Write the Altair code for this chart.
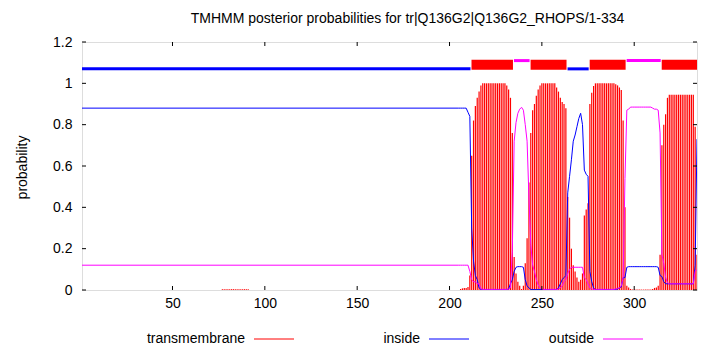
import altair as alt
import pandas as pd

# ---------------- data ----------------
SEQ_FIRST = 1
SEQ_LAST = 334

# flat part of the profile (residue 1 .. 204)
HEAD_RES = [1]
HEAD_INSIDE = [0.88]
HEAD_OUTSIDE = [0.12]

# tiny transmembrane values around residues 77-91
LOW_TM_RES = [77, 78, 79, 80, 81, 82, 83, 84, 85, 86, 87, 88, 89, 90, 91]
LOW_TM_VAL = [0.004, 0.004, 0.004, 0.004, 0.004, 0.004, 0.004, 0.004,
              0.004, 0.004, 0.004, 0.004, 0.004, 0.004, 0.004]

# residues 205 .. 334
VAR_START = 205
INSIDE = [
    0.88, 0.88, 0.88, 0.88, 0.88, 0.86, 0.84, 0.30, 0.14, 0.07, 0.05, 0.01, 0.003,
    0.002, 0.002, 0.002, 0.002, 0.002, 0.002, 0.002, 0.002, 0.002, 0.002, 0.002, 0.002, 0.002,
    0.002, 0.005, 0.03, 0.05, 0.09, 0.11, 0.113, 0.113, 0.113, 0.11, 0.05, 0.02, 0.01, 0.003,
    0.002, 0.002, 0.002, 0.002, 0.002, 0.002, 0.002, 0.002, 0.002, 0.002, 0.002, 0.002, 0.002,
    0.003, 0.01, 0.03, 0.05, 0.06, 0.07, 0.47, 0.55, 0.63, 0.72, 0.75, 0.79, 0.83, 0.855,
    0.80, 0.58, 0.56, 0.55, 0.09, 0.04, 0.01,
    0.002, 0.002, 0.002, 0.002, 0.002, 0.002, 0.002, 0.002, 0.002, 0.002, 0.002,
    0.003, 0.005, 0.01, 0.015, 0.06, 0.06, 0.11,
    0.113, 0.113, 0.113, 0.113, 0.113, 0.113, 0.113, 0.113, 0.113, 0.113, 0.113, 0.113,
    0.113, 0.113, 0.113, 0.113,
    0.11, 0.07, 0.065, 0.04,
    0.03, 0.03, 0.03, 0.03, 0.03, 0.03, 0.03, 0.03, 0.03, 0.03, 0.03, 0.03, 0.03, 0.03,
    0.03, 0.03,
    0.12, 0.73,
]
OUTSIDE = [
    0.12, 0.12, 0.12, 0.12, 0.12, 0.12, 0.09, 0.05, 0.04, 0.04, 0.03, 0.03, 0.005,
    0.003, 0.003, 0.003, 0.003, 0.003, 0.003, 0.003, 0.003, 0.003, 0.003, 0.003, 0.003, 0.003,
    0.003,
    0.005, 0.01, 0.19, 0.72, 0.81, 0.855, 0.875, 0.884, 0.87, 0.80, 0.72, 0.45, 0.22, 0.12,
    0.09, 0.05, 0.025, 0.01,
    0.003, 0.003, 0.003, 0.003, 0.003, 0.003, 0.003, 0.003,
    0.003, 0.005, 0.01, 0.02, 0.04, 0.05, 0.08, 0.10,
    0.11, 0.11, 0.11, 0.11, 0.11, 0.11, 0.11,
    0.06, 0.05, 0.03, 0.01, 0.005, 0.003,
    0.003, 0.003, 0.003, 0.003, 0.003, 0.003, 0.003, 0.003, 0.003, 0.003, 0.003,
    0.005, 0.008, 0.01, 0.02, 0.06, 0.54, 0.87, 0.875,
    0.885, 0.885, 0.885, 0.885, 0.885, 0.885, 0.885, 0.885, 0.885, 0.885, 0.885, 0.885,
    0.88, 0.875, 0.875, 0.87, 0.76, 0.17, 0.13, 0.06, 0.035,
    0.03, 0.03, 0.03, 0.03, 0.03, 0.03, 0.03, 0.03, 0.03, 0.03, 0.03, 0.03, 0.03, 0.03,
    0.09, 0.10,
]
TRANSMEMBRANE = [
    0.0, 0.005, 0.008, 0.01, 0.01, 0.015, 0.07, 0.65, 0.82, 0.89, 0.93, 0.96, 0.99,
    1.0, 1.0, 1.0, 1.0, 1.0, 1.0, 1.0, 1.0, 1.0, 1.0, 1.0, 1.0, 1.0,
    0.99, 0.97, 0.93, 0.76, 0.16, 0.08, 0.04, 0.02, 0.005, 0.02, 0.13, 0.25, 0.52, 0.76,
    0.87, 0.90, 0.94, 0.97, 0.99,
    1.0, 1.0, 1.0, 1.0, 1.0, 1.0, 1.0, 1.0,
    0.98, 0.96, 0.93, 0.91, 0.90, 0.88, 0.45, 0.35, 0.20, 0.12, 0.09, 0.06, 0.04, 0.05,
    0.08, 0.36, 0.39, 0.42, 0.90, 0.955, 0.987,
    1.0, 1.0, 1.0, 1.0, 1.0, 1.0, 1.0, 1.0, 1.0, 1.0, 1.0,
    0.995, 0.99, 0.98, 0.968, 0.82, 0.40, 0.02, 0.012, 0.005,
    0.002, 0.002, 0.002, 0.002, 0.002, 0.002, 0.002, 0.002, 0.002, 0.002,
    0.002, 0.005, 0.01, 0.012, 0.02, 0.17, 0.70, 0.80, 0.85, 0.93,
    0.945, 0.945, 0.945, 0.945, 0.945, 0.945, 0.945, 0.945, 0.945, 0.945, 0.945, 0.945,
    0.945, 0.945,
    0.79, 0.17,
]

# predicted topology (top bar)
TOPO_TYPE = ["inside", "TM", "outside", "TM", "inside", "TM", "outside", "TM"]
TOPO_START = [1, 212, 235, 244, 264, 276, 296, 315]
TOPO_END = [211, 234, 243, 263, 275, 295, 314, 334]

X_TICKS = [50, 100, 150, 200, 250, 300]
Y_TICKS = [0, 0.2, 0.4, 0.6, 0.8, 1.0, 1.2]

SERIES = ["transmembrane", "inside", "outside"]
TITLE = "TMHMM posterior probabilities for tr|Q136G2|Q136G2_RHOPS/1-334"
Y_TITLE = "probability"

# ---------------- styles ----------------
RED, BLUE, MAGENTA = "#ff0000", "#0000ff", "#ff00ff"
COLORS = [RED, BLUE, MAGENTA]
FONT = "Liberation Sans"
FS = 14
W, H = 615, 248
TICK = 4

var_res = list(range(VAR_START, VAR_START + len(TRANSMEMBRANE)))
assert len(INSIDE) == len(OUTSIDE) == len(TRANSMEMBRANE)

tm_df = pd.DataFrame({"residue": LOW_TM_RES + var_res, "prob": LOW_TM_VAL + TRANSMEMBRANE})
in_df = pd.DataFrame({"residue": HEAD_RES + var_res, "prob": HEAD_INSIDE + INSIDE})
out_df = pd.DataFrame({"residue": HEAD_RES + var_res, "prob": HEAD_OUTSIDE + OUTSIDE})
topo_df = pd.DataFrame({"type": TOPO_TYPE, "start": TOPO_START, "end": TOPO_END})

xs = alt.Scale(domain=[SEQ_FIRST, SEQ_LAST], nice=False, zero=False)
ys = alt.Scale(domain=[0, 1.2], nice=False)

x_axis = alt.Axis(values=X_TICKS, title=None, domain=False, ticks=False, tickSize=0,
                  grid=False, labelPadding=6, labelFont=FONT, labelFontSize=FS,
                  labelColor="black", labelFlush=False)
y_axis = alt.Axis(values=Y_TICKS, format=".1~f", title=Y_TITLE, domain=False, ticks=False,
                  tickSize=0, grid=False, labelPadding=10, labelFont=FONT, labelFontSize=FS,
                  labelColor="black", titleFont=FONT, titleFontSize=FS, titleFontWeight="normal",
                  titleColor="black", titleAngle=270, titleAlign="center",
                  titleBaseline="middle", titleX=-60, titleY=125, labelFlush=False)


def X(field):
    return alt.X(field, scale=xs, axis=x_axis)


def Y(field):
    return alt.Y(field, scale=ys, axis=y_axis)


impulses = alt.Chart(tm_df).mark_rule(color=RED, strokeWidth=1.2, clip=True).encode(
    x=X("residue:Q"), y=Y("prob:Q"), y2=alt.datum(0),
)

inside_line = alt.Chart(in_df).mark_line(color=BLUE, strokeWidth=1, clip=True).encode(
    x=X("residue:Q"), y=Y("prob:Q"),
)
outside_line = alt.Chart(out_df).mark_line(color=MAGENTA, strokeWidth=1, clip=True).encode(
    x=X("residue:Q"), y=Y("prob:Q"),
)

TOPO_STYLE = {"TM": (RED, 10, 1.09), "inside": (BLUE, 3, 1.07), "outside": (MAGENTA, 3, 1.11)}
topo_layers = []
for ttype, (col, sw, level) in TOPO_STYLE.items():
    topo_layers.append(
        alt.Chart(topo_df).transform_filter(alt.datum.type == ttype).transform_calculate(
            x0="datum.start - 0.1", x1="datum.end + 0.35", level=str(level),
        ).mark_rule(color=col, strokeWidth=sw, strokeCap="butt", clip=True).encode(
            x=X("x0:Q"), x2="x1:Q", y=Y("level:Q"),
        )
    )

xt = pd.DataFrame({"v": X_TICKS})
yt = pd.DataFrame({"v": Y_TICKS})
tick_bottom = alt.Chart(xt).mark_rule(color="black", strokeWidth=1).encode(
    x=X("v:Q"), y=alt.value(H), y2=alt.value(H - TICK))
tick_top = alt.Chart(xt).mark_rule(color="black", strokeWidth=1).encode(
    x=X("v:Q"), y=alt.value(0), y2=alt.value(TICK))
tick_left = alt.Chart(yt).mark_rule(color="black", strokeWidth=1).encode(
    y=Y("v:Q"), x=alt.value(0), x2=alt.value(TICK))
tick_right = alt.Chart(yt).mark_rule(color="black", strokeWidth=1).encode(
    y=Y("v:Q"), x=alt.value(W - TICK), x2=alt.value(W))

LEG_RIGHT = [163, 338, 512]
LEG_Y = 297
legend_layers = []
for name, col, lx in zip(SERIES, COLORS, LEG_RIGHT):
    ldf = pd.DataFrame({"label": [name]})
    legend_layers.append(
        alt.Chart(ldf).mark_text(align="right", baseline="middle", font=FONT, fontSize=FS,
                                 color="black").encode(
            text="label:N", x=alt.value(lx), y=alt.value(LEG_Y)))
    legend_layers.append(
        alt.Chart(ldf).mark_rule(color=col, strokeWidth=1).encode(
            x=alt.value(lx + 9), x2=alt.value(lx + 49), y=alt.value(LEG_Y)))

chart = alt.layer(
    impulses, inside_line, outside_line, *topo_layers,
    tick_bottom, tick_top, tick_left, tick_right,
    *legend_layers,
).properties(
    width=W, height=H,
    title=alt.TitleParams(TITLE, font=FONT, fontSize=FS, fontWeight="normal", color="black",
                          anchor="middle", dx=18, offset=2, baseline="middle", frame="group"),
    autosize=alt.AutoSizeParams(type="none"),
    padding={"left": 82, "top": 42, "right": 13, "bottom": 60},
).configure_view(stroke="black", strokeWidth=1).configure(background="white")

chart.save("out.html", embed_options={"renderer": "svg", "actions": False})
